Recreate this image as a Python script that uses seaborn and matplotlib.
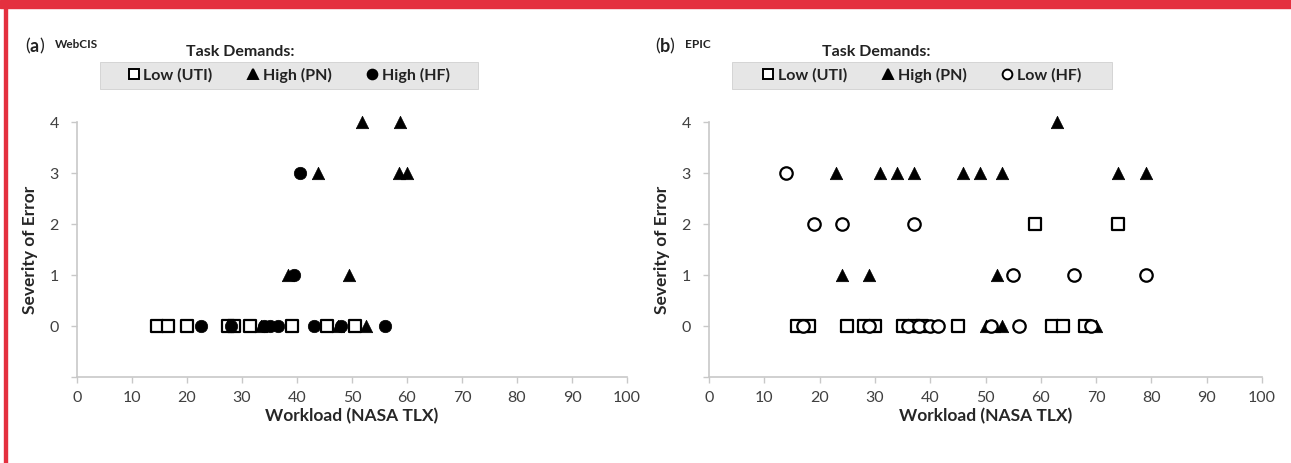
import pandas as pd
import seaborn as sns
import matplotlib.pyplot as plt
from matplotlib.patches import Rectangle
from matplotlib.lines import Line2D

# Datos (x = Workload NASA TLX, y = Severity of Error)
# Panel (a) WebCIS
a_uti_x = [14.5, 16.5, 20, 27.5, 28.5, 31.5, 39, 45.5, 50.5]
a_uti_y = [0, 0, 0, 0, 0, 0, 0, 0, 0]
a_pn_x = [33.5, 47.5, 52.5, 38.4, 49.5, 43.8, 58.5, 60, 51.8, 58.7]
a_pn_y = [0, 0, 0, 1, 1, 3, 3, 3, 4, 4]
a_hf_x = [22.5, 28, 34, 35, 36.5, 43, 48, 56, 39.4, 40.5]
a_hf_y = [0, 0, 0, 0, 0, 0, 0, 0, 1, 3]

# Panel (b) EPIC
b_uti_x = [16, 18, 25, 28, 30, 35, 37, 38.5, 45, 62, 64, 68, 59, 74]
b_uti_y = [0, 0, 0, 0, 0, 0, 0, 0, 0, 0, 0, 0, 2, 2]
b_pn_x = [50, 51.5, 53, 70, 24, 29, 52, 23, 31, 34, 37, 46, 49, 53, 74, 79, 63]
b_pn_y = [0, 0, 0, 0, 1, 1, 1, 3, 3, 3, 3, 3, 3, 3, 3, 3, 4]
b_hf_x = [17, 29, 36, 38, 40, 41.5, 51, 56, 69, 55, 66, 79, 19, 24, 37, 14]
b_hf_y = [0, 0, 0, 0, 0, 0, 0, 0, 0, 1, 1, 1, 2, 2, 2, 3]

x_ticks = [0, 10, 20, 30, 40, 50, 60, 70, 80, 90, 100]
y_ticks = [-1, 0, 1, 2, 3, 4]
y_labels = ['', '0', '1', '2', '3', '4']

sns.set_style('white')
plt.rcParams['font.family'] = ['Lato', 'DejaVu Sans']

fig = plt.figure(figsize=(12.91, 4.63), dpi=100)

# borde rojo
fig.patches.append(Rectangle((0, 1 - 8 / 463), 1, 8 / 463, transform=fig.transFigure,
                             color='#e4303f', zorder=0))
fig.patches.append(Rectangle((4 / 1291, 0), 3 / 1291, 1, transform=fig.transFigure,
                             color='#e4303f', zorder=0))

paneles = [
    dict(pos=[77 / 1291, 0.1857, 550 / 1291, 0.5508], letra='a', nombre='WebCIS',
         lx=25, box=(100, 478), tx=240,
         series=[('Low (UTI)', a_uti_x, a_uti_y, 's', 'white'),
                 ('High (PN)', a_pn_x, a_pn_y, '^', 'black'),
                 ('High (HF)', a_hf_x, a_hf_y, 'o', 'black')]),
    dict(pos=[709 / 1291, 0.1857, 553 / 1291, 0.5508], letra='b', nombre='EPIC',
         lx=655, box=(732, 1112), tx=876,
         series=[('Low (UTI)', b_uti_x, b_uti_y, 's', 'white'),
                 ('High (PN)', b_pn_x, b_pn_y, '^', 'black'),
                 ('Low (HF)', b_hf_x, b_hf_y, 'o', 'white')]),
]

for p in paneles:
    ax = fig.add_axes(p['pos'])
    handles = []
    for nombre, xs, ys, mk, fc in p['series']:
        df = pd.DataFrame({'x': xs, 'y': ys})
        sz = 75 if mk == 's' else 80
        sns.scatterplot(data=df, x='x', y='y', marker=mk, s=sz, facecolor=fc,
                        edgecolor='black', linewidth=1.6 if fc == 'white' else 0.5,
                        ax=ax, zorder=3, legend=False, clip_on=False)
        handles.append(Line2D([], [], ls='', marker=mk, markersize=7,
                              markerfacecolor=fc, markeredgecolor='black',
                              markeredgewidth=1.4, label=nombre))

    ax.set_xlim(0, 100)
    ax.set_ylim(-1, 4)
    ax.set_xticks(x_ticks)
    ax.set_yticks(y_ticks)
    ax.set_yticklabels(y_labels)
    ax.tick_params(axis='both', length=4, width=1, color='#c8c8c8',
                   labelcolor='#404040', labelsize=11.5, pad=6)
    ax.tick_params(axis='both', which='both', direction='out', left=True, bottom=True)
    ax.tick_params(axis='y', pad=9)
    for lado in ['top', 'right']:
        ax.spines[lado].set_visible(False)
    for lado in ['left', 'bottom']:
        ax.spines[lado].set_color('#c8c8c8')
        ax.spines[lado].set_linewidth(1.2)
    ax.set_xlabel('Workload (NASA TLX)', fontsize=12.5, fontweight='bold',
                  color='#262626', labelpad=2)
    ax.set_ylabel('Severity of Error', fontsize=12.5, fontweight='bold',
                  color='#262626', labelpad=8)
    ax.grid(False)

    # etiqueta del panel
    fig.text(p['lx'] / 1291, 1 - 46 / 463, '(', fontsize=13, color='#222222', va='center')
    fig.text((p['lx'] + 5) / 1291, 1 - 46 / 463, p['letra'], fontsize=13,
             fontweight='bold', color='#222222', va='center')
    fig.text((p['lx'] + 14) / 1291, 1 - 46 / 463, ')', fontsize=13, color='#222222', va='center')
    fig.text((p['lx'] + 30) / 1291, 1 - 44 / 463, p['nombre'], fontsize=8.5,
             fontweight='bold', color='#222222', va='center')

    # leyenda con caja gris
    x0, x1 = p['box']
    fig.patches.append(Rectangle((x0 / 1291, 1 - 89 / 463), (x1 - x0) / 1291, 27 / 463,
                                 transform=fig.transFigure, facecolor='#e6e6e6',
                                 edgecolor='#d0d0d0', linewidth=0.6, zorder=1))
    fig.text(p['tx'] / 1291, 1 - 52 / 463, 'Task Demands:', fontsize=11.5,
             fontweight='bold', color='#222222', ha='center', va='center')
    leg = fig.legend(handles=handles, loc='center', ncol=3, frameon=False,
                     bbox_to_anchor=((x0 + x1) / 2 / 1291, 1 - 75.5 / 463),
                     handlelength=0.7, handletextpad=0.25, columnspacing=2.2,
                     fontsize=11.5)
    for t in leg.get_texts():
        t.set_color('#222222')
        t.set_fontweight('bold')

plt.savefig('out.png', dpi=100)
